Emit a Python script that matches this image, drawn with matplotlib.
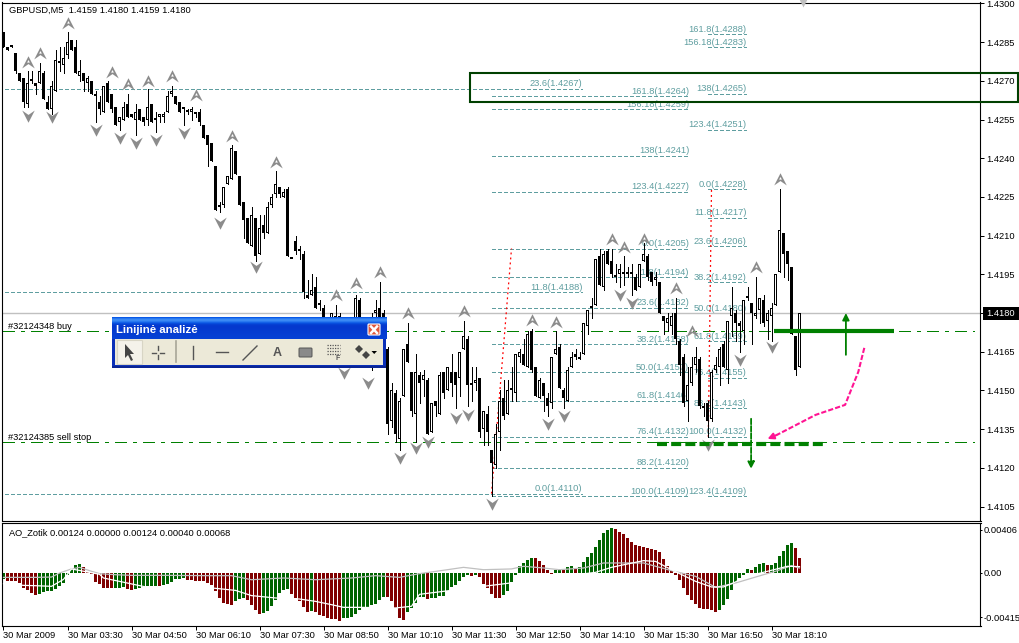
import numpy as np
import matplotlib
matplotlib.use('agg')
import matplotlib.pyplot as plt
from matplotlib.path import Path
from matplotlib.patches import Rectangle, FancyBboxPatch, Polygon

# M5 candles
opens = [1.4289,1.4283,1.4283,1.4281,1.4273,1.4271,1.4261,1.4270,1.4269,1.4269,
    1.4273,1.4262,1.4259,1.4266,1.4277,1.4276,1.4280,1.4286,1.4283,1.4272,
    1.4273,1.4269,1.4270,1.4264,1.4262,1.4258,1.4269,1.4265,1.4260,1.4254,
    1.4255,1.4261,1.4257,1.4255,1.4259,1.4256,1.4255,1.4261,1.4255,1.4256,
    1.4256,1.4258,1.4265,1.4264,1.4262,1.4259,1.4258,1.4258,1.4257,1.4258,
    1.4253,1.4249,1.4246,1.4237,1.4221,1.4222,1.4230,1.4232,1.4243,1.4233,
    1.4223,1.4217,1.4206,1.4217,1.4203,1.4214,1.4211,1.4222,1.4226,1.4229,
    1.4225,1.4228,1.4201,1.4208,1.4204,1.4203,1.4187,1.4187,1.4190,1.4184,
    1.4182,1.4175,1.4172,1.4177,1.4179,1.4172,1.4169,1.4173,1.4170,1.4185,
    1.4170,1.4174,1.4175,1.4180,1.4182,1.4180,1.4166,1.4138,1.4149,1.4131,
    1.4148,1.4168,1.4157,1.4141,1.4156,1.4154,1.4154,1.4134,1.4146,1.4141,
    1.4157,1.4150,1.4157,1.4157,1.4155,1.4166,1.4170,1.4152,1.4153,1.4155,
    1.4135,1.4141,1.4127,1.4121,1.4134,1.4147,1.4141,1.4151,1.4149,1.4163,
    1.4164,1.4159,1.4173,1.4159,1.4147,1.4153,1.4147,1.4145,1.4164,1.4167,
    1.4150,1.4146,1.4159,1.4164,1.4162,1.4164,1.4175,1.4182,1.4183,1.4202,
    1.4190,1.4204,1.4200,1.4194,1.4195,1.4196,1.4196,1.4196,1.4194,1.4190,
    1.4200,1.4202,1.4196,1.4193,1.4192,1.4179,1.4176,1.4175,1.4180,1.4169,
    1.4163,1.4146,1.4153,1.4160,1.4162,1.4144,1.4145,1.4139,1.4158,1.4159,
    1.4168,1.4158,1.4179,1.4180,1.4176,1.4173,1.4186,1.4184,1.4179,1.4181,
    1.4185,1.4177,1.4179,1.4183,1.4196,1.4211,1.4204,1.4198,1.4171,1.4159]
highs = [1.4289,1.4283,1.4284,1.4281,1.4273,1.4271,1.4274,1.4274,1.4269,1.4277,
    1.4274,1.4264,1.4270,1.4282,1.4283,1.4283,1.4289,1.4286,1.4286,1.4278,
    1.4273,1.4272,1.4270,1.4266,1.4264,1.4268,1.4270,1.4265,1.4260,1.4256,
    1.4262,1.4265,1.4257,1.4261,1.4259,1.4256,1.4267,1.4261,1.4258,1.4257,
    1.4258,1.4266,1.4268,1.4264,1.4262,1.4260,1.4259,1.4260,1.4258,1.4259,
    1.4253,1.4249,1.4246,1.4237,1.4223,1.4229,1.4233,1.4245,1.4243,1.4233,
    1.4223,1.4217,1.4221,1.4217,1.4218,1.4218,1.4223,1.4226,1.4235,1.4229,
    1.4228,1.4229,1.4201,1.4210,1.4206,1.4204,1.4193,1.4195,1.4194,1.4185,
    1.4183,1.4177,1.4180,1.4183,1.4180,1.4174,1.4175,1.4176,1.4187,1.4186,
    1.4176,1.4176,1.4180,1.4185,1.4192,1.4181,1.4167,1.4153,1.4150,1.4147,
    1.4166,1.4176,1.4157,1.4164,1.4157,1.4158,1.4155,1.4145,1.4146,1.4157,
    1.4157,1.4159,1.4164,1.4157,1.4165,1.4177,1.4171,1.4159,1.4159,1.4155,
    1.4142,1.4144,1.4127,1.4137,1.4150,1.4154,1.4154,1.4159,1.4164,1.4166,
    1.4170,1.4173,1.4174,1.4159,1.4155,1.4153,1.4149,1.4163,1.4173,1.4168,
    1.4151,1.4159,1.4165,1.4166,1.4165,1.4176,1.4181,1.4186,1.4201,1.4205,
    1.4204,1.4205,1.4205,1.4199,1.4199,1.4202,1.4198,1.4199,1.4195,1.4199,
    1.4207,1.4203,1.4196,1.4196,1.4192,1.4179,1.4180,1.4180,1.4186,1.4170,
    1.4164,1.4159,1.4163,1.4167,1.4163,1.4145,1.4146,1.4158,1.4163,1.4167,
    1.4169,1.4177,1.4190,1.4181,1.4177,1.4185,1.4190,1.4184,1.4194,1.4186,
    1.4187,1.4181,1.4184,1.4195,1.4228,1.4211,1.4204,1.4198,1.4171,1.4180]
lows = [1.4283,1.4282,1.4283,1.4273,1.4270,1.4260,1.4260,1.4269,1.4265,1.4269,
    1.4263,1.4259,1.4257,1.4266,1.4274,1.4273,1.4279,1.4282,1.4273,1.4270,
    1.4266,1.4266,1.4265,1.4254,1.4257,1.4258,1.4262,1.4258,1.4253,1.4251,
    1.4255,1.4256,1.4256,1.4249,1.4255,1.4253,1.4253,1.4254,1.4250,1.4254,
    1.4254,1.4258,1.4264,1.4261,1.4258,1.4253,1.4257,1.4255,1.4256,1.4253,
    1.4248,1.4237,1.4239,1.4220,1.4219,1.4221,1.4230,1.4232,1.4234,1.4222,
    1.4209,1.4207,1.4206,1.4200,1.4203,1.4209,1.4211,1.4221,1.4225,1.4225,
    1.4225,1.4202,1.4201,1.4203,1.4201,1.4186,1.4186,1.4187,1.4182,1.4181,
    1.4173,1.4170,1.4170,1.4170,1.4168,1.4161,1.4165,1.4165,1.4168,1.4165,
    1.4165,1.4160,1.4158,1.4175,1.4172,1.4170,1.4133,1.4136,1.4130,1.4127,
    1.4148,1.4161,1.4140,1.4130,1.4145,1.4148,1.4133,1.4134,1.4140,1.4141,
    1.4147,1.4150,1.4148,1.4143,1.4148,1.4166,1.4144,1.4146,1.4150,1.4132,
    1.4129,1.4129,1.4109,1.4120,1.4127,1.4139,1.4141,1.4146,1.4146,1.4161,
    1.4160,1.4159,1.4157,1.4148,1.4147,1.4142,1.4140,1.4143,1.4164,1.4151,
    1.4143,1.4146,1.4159,1.4162,1.4162,1.4164,1.4172,1.4178,1.4183,1.4191,
    1.4189,1.4199,1.4194,1.4192,1.4190,1.4191,1.4194,1.4187,1.4189,1.4190,
    1.4200,1.4193,1.4191,1.4191,1.4180,1.4172,1.4173,1.4172,1.4168,1.4156,
    1.4144,1.4138,1.4152,1.4157,1.4143,1.4140,1.4132,1.4138,1.4157,1.4152,
    1.4159,1.4153,1.4171,1.4169,1.4165,1.4168,1.4185,1.4168,1.4178,1.4176,
    1.4175,1.4170,1.4169,1.4183,1.4196,1.4194,1.4193,1.4172,1.4156,1.4159]
closes = [1.4283,1.4282,1.4284,1.4274,1.4270,1.4262,1.4269,1.4270,1.4268,1.4274,
    1.4263,1.4259,1.4268,1.4278,1.4277,1.4279,1.4285,1.4282,1.4273,1.4274,
    1.4270,1.4271,1.4265,1.4265,1.4259,1.4268,1.4262,1.4259,1.4253,1.4256,
    1.4260,1.4256,1.4256,1.4258,1.4255,1.4254,1.4260,1.4254,1.4255,1.4257,
    1.4257,1.4264,1.4266,1.4261,1.4258,1.4259,1.4258,1.4259,1.4257,1.4254,
    1.4248,1.4245,1.4239,1.4220,1.4221,1.4229,1.4233,1.4244,1.4234,1.4222,
    1.4216,1.4207,1.4218,1.4202,1.4213,1.4211,1.4221,1.4225,1.4230,1.4226,
    1.4227,1.4202,1.4201,1.4204,1.4204,1.4188,1.4186,1.4189,1.4182,1.4183,
    1.4174,1.4172,1.4180,1.4179,1.4172,1.4169,1.4173,1.4170,1.4186,1.4170,
    1.4174,1.4170,1.4172,1.4181,1.4175,1.4172,1.4137,1.4150,1.4133,1.4146,
    1.4166,1.4161,1.4142,1.4157,1.4153,1.4156,1.4133,1.4145,1.4144,1.4156,
    1.4149,1.4159,1.4153,1.4152,1.4165,1.4171,1.4152,1.4152,1.4154,1.4134,
    1.4142,1.4134,1.4122,1.4133,1.4146,1.4140,1.4150,1.4150,1.4164,1.4165,
    1.4160,1.4172,1.4158,1.4148,1.4154,1.4148,1.4144,1.4163,1.4166,1.4151,
    1.4147,1.4158,1.4163,1.4163,1.4163,1.4176,1.4181,1.4182,1.4201,1.4191,
    1.4203,1.4199,1.4195,1.4194,1.4197,1.4195,1.4195,1.4195,1.4189,1.4199,
    1.4203,1.4194,1.4192,1.4194,1.4180,1.4177,1.4178,1.4179,1.4170,1.4160,
    1.4145,1.4152,1.4159,1.4163,1.4144,1.4143,1.4138,1.4157,1.4160,1.4166,
    1.4159,1.4177,1.4182,1.4176,1.4175,1.4185,1.4186,1.4180,1.4180,1.4186,
    1.4176,1.4180,1.4182,1.4195,1.4212,1.4203,1.4199,1.4172,1.4158,1.4180]

# fractals, bar number and price of the mark
fractal_up_bars = [16,6,9,27,31,36,42,48,57,68,83,88,94,101,115,132,138,152,155,160,168,172,188,194]
fractal_up_prices = [1.42926,1.42775,1.42807,1.42736,1.42687,1.4270,1.42718,1.42645,1.42488,1.42387,
    1.4187,1.41918,1.41958,1.41799,1.41806,1.41773,1.41767,1.42086,1.42057,1.42087,1.41896,1.41732,1.41977,1.42318]
fractal_down_bars = [6,12,23,29,33,38,45,54,63,85,91,99,103,106,113,116,122,136,140,154,157,176,184,192]
fractal_down_prices = [1.42565,1.42559,1.4251,1.42477,1.42458,1.42471,1.42497,1.42148,1.41977,1.41566,
    1.41528,1.41237,1.41276,1.4130,1.41395,1.41405,1.41059,1.41369,1.41399,1.4187,1.4184,1.41289,1.41618,1.41667]

# fibo levels
fib_a_levels = ['0.0','11.8','23.6']
fib_a_prices = [1.4110,1.4188,1.4267]
fib_b_levels = ['0.0','11.8','23.6','38.2','50.0','61.8','76.4','88.2','100.0','123.4','138','156.18','161.8']
fib_b_prices = [1.4205,1.4194,1.4182,1.4168,1.4157,1.4146,1.4132,1.4120,1.4109,1.4227,1.4241,1.4259,1.4264]
fib_c_levels = ['0.0','11.8','23.6','38.2','50.0','61.8','76.4','88.2','100.0','123.4','123.4','138','156.18','161.8']
fib_c_prices = [1.4228,1.4217,1.4206,1.4192,1.4180,1.4169,1.4155,1.4143,1.4132,1.4109,1.4251,1.4265,1.4283,1.4288]

# hand drawn things on the chart
pink_bars = [215.2,213.7,210.4,203,193.4,191]
pink_prices = [1.41665,1.41572,1.41444,1.41405,1.41328,1.41312]

# AO histogram in 1e-5
ao_points = [-53,-75,-75,-75,-94,-141,-156,-188,-206,-197,-175,-172,-169,-147,-119,-94,-22,38,78,88,
    56,9,-9,-81,-103,-138,-141,-144,-141,-138,-134,-147,-156,-153,-141,-134,-125,-122,-119,-122,
    -113,-103,-84,-59,-53,-50,-63,-69,-72,-75,-78,-94,-116,-172,-234,-281,-291,-297,-259,-241,
    -234,-250,-303,-350,-381,-378,-353,-306,-256,-188,-156,-150,-194,-234,-266,-322,-362,-359,-369,-391,
    -406,-425,-428,-431,-447,-425,-422,-413,-381,-344,-322,-319,-297,-288,-256,-222,-225,-266,-328,-422,
    -438,-369,-328,-281,-228,-222,-241,-238,-234,-219,-213,-172,-131,-109,-78,-38,-16,-25,-16,-38,
    -100,-141,-194,-231,-234,-203,-172,-81,-19,69,94,125,144,141,116,72,31,-6,31,41,
    31,56,63,50,53,103,147,188,241,313,375,400,422,413,381,366,328,288,259,250,
    241,231,225,219,197,131,63,25,-22,-69,-141,-203,-250,-288,-328,-334,-338,-350,-366,-344,
    -303,-244,-156,-94,-47,-16,41,31,53,84,94,75,78,94,156,203,259,281,234,141]
ao_silver_bars = [0,8,12,14,17,19,22,24,28,32,41,51,57,62,70,78,87,93,99,104,111,115,120,127,130,135,139,145,150,154,160,167,173,178,183,190,193,197,199]
ao_silver = [-41,-41,-38,0,38,53,16,-6,-16,-22,-22,-25,-25,-63,-47,-63,-47,-25,-41,-6,31,53,31,38,63,47,31,47,94,94,94,22,-31,-134,-94,-16,16,69,47]
ao_white_bars = [0,5,8,12,15,17,24,25,36,46,52,58,62,68,74,78,82,85,89,98,102,104,148,152,160,163,167,173,177,180,183,185,196,199]
ao_white = [-100,-116,-119,-125,-60,38,-12,-47,-134,-134,-140,-163,-212,-234,-244,-266,-297,-322,-322,-328,-312,-200,6,53,116,109,31,-78,-131,-131,-84,-40,63,60]

time_labels = ['30 Mar 2009','30 Mar 03:30','30 Mar 04:50','30 Mar 06:10','30 Mar 07:30','30 Mar 08:50','30 Mar 10:10',
    '30 Mar 11:30','30 Mar 12:50','30 Mar 14:10','30 Mar 15:30','30 Mar 16:50','30 Mar 18:10']
price_ticks = [1.4105,1.4120,1.4135,1.4150,1.4165,1.4180,1.4195,1.4210,1.4225,1.4240,1.4255,1.4270,1.4285,1.4300]
ao_ticks = [-0.00415,0.0,0.00406]
ao_tick_labels = ['-0.00415','0.00','0.00406']

assert all(len(a) == 200 for a in [opens, highs, lows, closes, ao_points])

FONT = 'Liberation Sans'
FS = 6.7
TEAL = '#5f9ea0'
GREEN = '#008000'
PX_PRICE = 1 / 25795  # one screen pixel in price units
plt.rcParams['font.family'] = [FONT, 'DejaVu Sans']
plt.rcParams['font.size'] = FS

W, H = 1020, 643
fig = plt.figure(figsize=(W / 100, H / 100), dpi=100, facecolor='white')

def px_axes(x0, y0, x1, y1):
    return fig.add_axes([x0 / W, 1 - y1 / H, (x1 - x0) / W, (y1 - y0) / H])

ax = px_axes(2.5, 2.5, 980.5, 520.5)
ao_ax = px_axes(2.5, 522.5, 980.5, 625.5)

bars = np.arange(200)
xlim = ((2.5 - 3.5) / 4, (980.5 - 3.5) / 4)
o, h, l, c = map(np.array, (opens, highs, lows, closes))

# fibo lines under the candles
def draw_fib(levels, prices, start, end):
    for lev, p in zip(levels, prices):
        ax.plot([start, end], [p, p], color=TEAL, lw=0.72, dashes=(4, 2.5), zorder=1, antialiased=False)
        ax.annotate('%s(%.4f)' % (lev, p), (end, p), xytext=(0, 0.3), textcoords='offset points',
                    ha='right', va='bottom', color=TEAL, fontsize=FS, zorder=1)

draw_fib(fib_a_levels, fib_a_prices, -1, 144.7)
draw_fib(fib_b_levels, fib_b_prices, 122, 171.4)
draw_fib(fib_c_levels, fib_c_prices, 176.2, 185.7)

# horizontal lines
ax.axhline(1.4180, color='#c0c0c0', lw=1.0, zorder=1.5)
for price, name in [(1.4173, '#32124348 buy'), (1.4130, '#32124385 sell stop')]:
    ax.plot([0, 242.5], [price, price], color=GREEN, lw=0.8, dashes=(10, 6, 3, 6), zorder=1.5, antialiased=False)
    ax.annotate(name, (0, price), xytext=(3.2, 0.2), textcoords='offset points', va='bottom', color='black', fontsize=FS)

# trend lines
ax.plot([122, 127], [1.4110, 1.4205], color='red', lw=0.9, ls=(0, (1.5, 2.5)), zorder=2)
ax.plot([176.2, 177], [1.4132, 1.4228], color='red', lw=0.9, ls=(0, (1.5, 2.5)), zorder=2)

# candles, bodies 3px wide, white ones keep a 1px hole
ax.vlines(bars, l, h, color='black', lw=0.72, zorder=3, antialiased=False)
body_low = np.minimum(o, c)
body_h = np.maximum(np.abs(c - o), 2 * PX_PRICE)
ax.bar(bars, body_h, bottom=body_low, width=0.75, color='black', lw=0, zorder=4, antialiased=False)
hollow = (c > o) & (body_h > 2.5 * PX_PRICE)
ax.bar(bars[hollow], body_h[hollow] - 2 * PX_PRICE, bottom=body_low[hollow] + PX_PRICE, width=0.25,
       color='white', lw=0, zorder=4.5, antialiased=False)

# fractals
codes = [Path.MOVETO, Path.LINETO, Path.LINETO, Path.LINETO, Path.CLOSEPOLY,
         Path.MOVETO, Path.LINETO, Path.LINETO, Path.CLOSEPOLY]
arrow_up = Path([(0, 1), (1, -0.95), (0, -0.25), (-1, -0.95), (0, 1),
                 (0, 0.4), (-0.22, -0.02), (0.22, -0.02), (0, 0.4)], codes)
arrow_down = Path([(0, -1), (1, 0.95), (0, 0.25), (-1, 0.95), (0, -1),
                   (0, -0.4), (0.22, 0.02), (-0.22, 0.02), (0, -0.4)], codes)
ax.plot(fractal_up_bars, fractal_up_prices, ls='none', marker=arrow_up, ms=9, mfc='#8c8c8c', mec='none', zorder=5)
ax.plot(fractal_down_bars, fractal_down_prices, ls='none', marker=arrow_down, ms=9, mfc='#8c8c8c', mec='none', zorder=5)
ax.plot([199.9], [1], ls='none', marker='v', ms=6, mfc='#c0c0c0', mec='none', clip_on=False,
        transform=ax.get_xaxis_transform(), zorder=5)

# trade drawings
ax.plot([192.5, 222.7], [1.4173, 1.4173], color=GREEN, lw=3, solid_capstyle='butt', zorder=6)
ax.plot([163.4, 204.9], [1.41294, 1.41294], color=GREEN, lw=3, dashes=(2.4, 1.0), dash_capstyle='butt', zorder=6)
ax.annotate('', (210.6, 1.4180), (210.6, 1.41638),
            arrowprops=dict(arrowstyle='-|>', color=GREEN, lw=1.3, shrinkA=0, shrinkB=0, mutation_scale=10), zorder=6)
ax.annotate('', (186.9, 1.41196), (186.9, 1.4139),
            arrowprops=dict(arrowstyle='-|>', color=GREEN, lw=1.3, ls=(0, (3, 1)), shrinkA=0, shrinkB=0, mutation_scale=10), zorder=6)
ax.plot(pink_bars[:-1], pink_prices[:-1], color='#ff1493', lw=1.5, dashes=(2.5, 1), zorder=6)
ax.annotate('', (pink_bars[-1], pink_prices[-1]), (pink_bars[-2], pink_prices[-2]),
            arrowprops=dict(arrowstyle='-|>', color='#ff1493', lw=1.5, shrinkA=0, shrinkB=0, mutation_scale=9), zorder=6)

# the big box runs over the price scale
ax.add_patch(Rectangle((116.7, 1.42619), 137, 1.42732 - 1.42619, fill=False, ec='#004000', lw=1.5,
                       clip_on=False, zorder=7))

ax.set_xlim(xlim)
ax.set_ylim(1.43 - (520.5 - 3.5) * PX_PRICE, 1.43 - (2.5 - 3.5) * PX_PRICE)
ax.set_xticks([])
ax.yaxis.tick_right()
ax.set_yticks(price_ticks)
ax.set_yticklabels(['' if p == 1.4180 else '%.4f' % p for p in price_ticks])
ax.tick_params(axis='y', length=3, width=0.72, pad=1.5, labelsize=FS)
ax.text(7 / 978, 1 - 7.5 / 518, 'GBPUSD,M5  1.4159 1.4180 1.4159 1.4180', transform=ax.transAxes,
        va='center', ha='left', fontsize=FS, zorder=8)

# AO panel
ao = np.array(ao_points) * 1e-5
diff = np.diff(ao, prepend=ao[0] - 1e-5)
ao_colors = ['#006400' if d > 0 else '#800000' for d in diff]
ao_ax.bar(bars, ao, width=0.75, color=ao_colors, lw=0, antialiased=False, zorder=2)
ao_ax.plot(ao_silver_bars, np.array(ao_silver) * 1e-5, color='#c0c0c0', lw=0.9, zorder=3)
ao_ax.plot(ao_white_bars, np.array(ao_white) * 1e-5, color='white', lw=0.9, zorder=3)
ao_ax.set_xlim(xlim)
ao_ax.set_ylim(-52.5 / 10665, 50.5 / 10665)
ao_ax.yaxis.tick_right()
ao_ax.set_yticks(ao_ticks)
ao_ax.set_yticklabels(ao_tick_labels)
ao_ax.set_xticks(np.arange(len(time_labels)) * 16)
ao_ax.set_xticklabels(time_labels, ha='left')
ao_ax.tick_params(axis='both', length=3, width=0.72, labelsize=FS)
ao_ax.tick_params(axis='y', length=1.5, pad=0.8)
ao_ax.tick_params(axis='x', pad=1.0)
ao_ax.text(7 / 978, 1 - 10 / 103, 'AO_Zotik 0.00124 0.00000 0.00124 0.00040 0.00068', transform=ao_ax.transAxes,
           va='center', ha='left', fontsize=FS)

for a in (ax, ao_ax):
    for s in a.spines.values():
        s.set_linewidth(0.8)

# overlay in pixels for the price box and the floating toolbar
ui = fig.add_axes([0, 0, 1, 1], zorder=10)
ui.patch.set_visible(False)
ui.set_axis_off()

ui.add_patch(Rectangle((983, 307), 36, 13, fc='black', ec='none'))
ui.text(986, 313.5, '1.4180', color='white', va='center', ha='left', fontsize=FS)

ui.add_patch(Rectangle((112, 317), 274.5, 50.7, fc='#0a2fb8', ec='none'))
grad = np.linspace(0, 1, 20).reshape(-1, 1)
grad = np.exp(-((grad - 0.12) ** 2) / 0.02) * 0.5 + 0.1 + grad * 0.1
ui.imshow(grad, cmap=matplotlib.colors.LinearSegmentedColormap.from_list('t', ['#0331c8', '#0a5be8', '#3d8cf5']),
          extent=(112, 386.5, 339, 317), aspect='auto', vmin=0.1, vmax=0.6, zorder=1)
ui.add_patch(Rectangle((115, 339), 268, 26, fc='#ece9d8', ec='none', zorder=2))
ui.add_patch(Rectangle((112, 365.5), 274.5, 2.2, fc='#0a2494', ec='none', zorder=2))
ui.text(116, 330, 'Linijinė analizė', color='white', fontsize=8.2, fontweight='bold', va='center', ha='left', zorder=3)
ui.add_patch(FancyBboxPatch((369, 325), 10, 9, boxstyle='round,pad=1', fc='#e0573a', ec='white', lw=0.8, zorder=3))
ui.plot([371, 377], [326.5, 333], color='white', lw=1.8, zorder=4)
ui.plot([377, 371], [326.5, 333], color='white', lw=1.8, zorder=4)

# toolbar buttons
ui.add_patch(Rectangle((117, 340), 25, 23.5, fc='#f4f2ea', ec='#d8d5c5', lw=0.8, zorder=3))
ui.add_patch(Polygon([(125, 344), (125, 358), (128, 355), (131, 361), (133, 360), (130, 354), (134, 354)],
                     fc='#444444', ec='none', zorder=4))
gray = '#555555'
for xs, ys in [([152, 156], [352.5, 352.5]), ([160, 164], [352.5, 352.5]), ([158, 158], [346, 350]),
               ([158, 158], [355, 359]), ([193, 193], [346, 359]), ([216, 228], [352, 352]), ([243, 257], [360, 346])]:
    ui.plot(xs, ys, color=gray, lw=1, zorder=4)
ui.plot([175.7, 175.7], [341, 362], color='#a8a698', lw=1.2, zorder=4)
ui.text(277, 352.5, 'A', color=gray, fontsize=9, fontweight='bold', ha='center', va='center', zorder=4)
ui.add_patch(FancyBboxPatch((300, 349), 11, 7, boxstyle='round,pad=1', fc='#8a8a8a', ec='#555555', lw=0.7, zorder=4))
for yy in [345, 348, 351, 354]:
    ui.plot([327, 340], [yy, yy], color=gray, lw=0.9, dashes=(1, 1), zorder=4)
ui.text(338, 358.5, 'F', color=gray, fontsize=5, fontweight='bold', ha='center', va='center', zorder=4)
ui.add_patch(Polygon([(355, 349), (359, 345), (363, 349), (359, 353)], fc='#444444', ec='none', zorder=4))
ui.add_patch(Polygon([(362, 355), (366, 351), (370, 355), (366, 359)], fc='#444444', ec='none', zorder=4))
ui.add_patch(Polygon([(371.5, 351), (377, 351), (374.2, 354)], fc='black', ec='none', zorder=4))

ui.set_xlim(0, W)
ui.set_ylim(H, 0)

fig.savefig('out.png', dpi=100)
